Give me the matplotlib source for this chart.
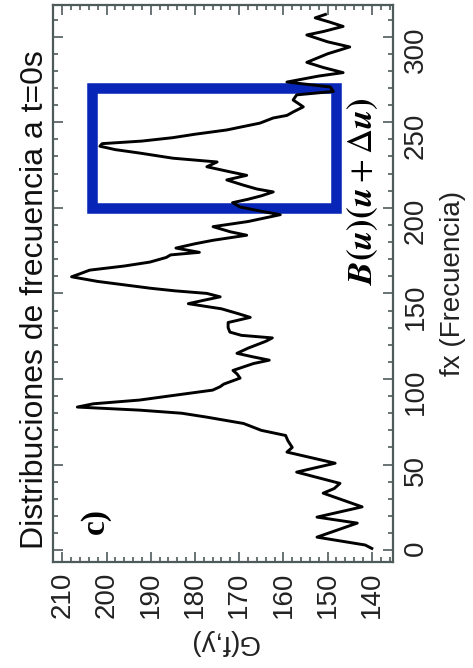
import matplotlib.pyplot as plt
from matplotlib.patches import Rectangle
from matplotlib.ticker import MultipleLocator

plt.rcParams['font.family'] = ['Liberation Sans', 'DejaVu Sans']
plt.rcParams['mathtext.fontset'] = 'stix'

# frequency distribution G(f,y) along fx
fx_vals = [1, 3, 7.6, 15.8, 19.3, 25.3, 33.3, 36, 39, 45.6, 50.8, 57.3, 60, 64, 67,
           70, 74, 77.7, 80, 81.8, 83.6, 85.5, 87.7, 90, 93.5, 95.5, 97, 100.5, 103,
           105, 109, 111, 113, 115, 118, 120, 122, 124, 125.5, 127.4, 130, 133, 136,
           138, 141, 144, 146, 148, 150, 151.5, 153, 155, 157, 159.7, 161, 163.6,
           166, 168.3, 171, 172.5, 174, 176.5, 179, 181, 184, 186, 189, 192, 196,
           198, 200.5, 203, 205, 207, 209.3, 211, 213.3, 216.3, 219, 221, 224, 226.8,
           229, 232, 234, 236, 237.5, 239, 241, 243, 245.5, 247, 249.5, 252.5, 254,
           256, 259, 263, 266, 268, 270.6, 273.5, 277, 279, 282, 285, 290, 294, 297,
           301, 303, 306, 308.5, 311, 313]
g_vals = [140.0, 141.5, 152.4, 143.3, 152.4, 142.2, 151.0, 148.5, 147.2, 157.0, 148.3,
          159.2, 158.0, 159.0, 159.5, 165.0, 169.0, 177.3, 183.0, 192.5, 206.6, 203.0,
          192.5, 186.0, 176.0, 174.3, 173.5, 169.8, 170.5, 171.4, 166.8, 163.2, 167.0,
          170.5, 168.0, 166.0, 164.0, 162.5, 169.5, 172.1, 172.5, 172.5, 167.5, 170.0,
          174.0, 181.5, 178.0, 174.3, 177.3, 184.5, 190.0, 196.0, 202.0, 207.9, 206.5,
          203.8, 196.0, 190.2, 186.5, 185.5, 179.0, 184.3, 180.0, 176.0, 168.3, 172.0,
          175.9, 168.0, 160.7, 165.0, 169.8, 171.5, 168.0, 165.0, 162.3, 166.0, 169.1,
          172.8, 168.3, 172.0, 177.3, 175.0, 185.0, 192.5, 198.0, 201.5, 201.0, 192.0,
          185.0, 180.0, 172.8, 170.0, 165.3, 162.3, 159.2, 157.8, 155.5, 157.8, 157.0,
          148.7, 149.4, 159.2, 152.0, 146.5, 151.0, 154.7, 150.0, 145.0, 150.0, 154.7,
          151.0, 146.5, 149.5, 152.8, 150.5]

# highlighted band
box_fx = [200, 270]
box_g = [148.2, 203.2]

fig = plt.figure(figsize=(4.73, 6.68), dpi=100)
ax = fig.add_axes([0.113, 0.159, 0.718, 0.8335])

ax.add_patch(Rectangle((box_g[0], box_fx[0]), box_g[1] - box_g[0], box_fx[1] - box_fx[0],
                       fill=False, edgecolor='#0726B8', linewidth=7.6,
                       joinstyle='miter', zorder=2))
ax.plot(g_vals, fx_vals, color='black', linewidth=2.1, zorder=3)

ax.set_xlim(212, 135.2)
ax.set_ylim(-6.8, 318.5)

ax.xaxis.set_major_locator(MultipleLocator(10))
ax.xaxis.set_minor_locator(MultipleLocator(2))
ax.yaxis.set_major_locator(MultipleLocator(50))
ax.yaxis.set_minor_locator(MultipleLocator(10))
ax.tick_params(which='both', direction='in', top=True, bottom=True, left=True, right=True,
               labelleft=False, labelright=True, color='#4f5b5b', width=1.2)
ax.tick_params(which='major', length=7, labelsize=20, pad=7, labelcolor='#222222')
ax.tick_params(which='minor', length=3.5)
ax.tick_params(axis='x', labelrotation=90)
ax.tick_params(axis='y', labelrotation=90)
for s in ax.spines.values():
    s.set_color('#4f5b5b')
    s.set_linewidth(1.6)

ax.set_xlabel('G(f,y)', rotation=180, fontsize=20, color='#222222', labelpad=8)
ax.yaxis.set_label_position('right')
ax.set_ylabel('fx (Frecuencia)', rotation=90, fontsize=20, color='#222222', labelpad=8)

fig.text(35 / 473, 1 - 300 / 668, 'Distribuciones de frecuencia a t=0s', rotation=90,
         ha='center', va='center', fontsize=23, color='#111111')

ax.text(202.6, 17, 'c)', rotation=90, ha='center', va='center', fontsize=24,
        fontweight='bold', family='Liberation Serif')
ax.text(142, 155, r'$\mathbfit{B}\mathbf{(}\mathbfit{u}\mathbf{)(}\mathbfit{u} + \Delta\mathbfit{u}\mathbf{)}$',
        rotation=90, ha='center', va='bottom', fontsize=25)

fig.savefig('out.png', dpi=100)
